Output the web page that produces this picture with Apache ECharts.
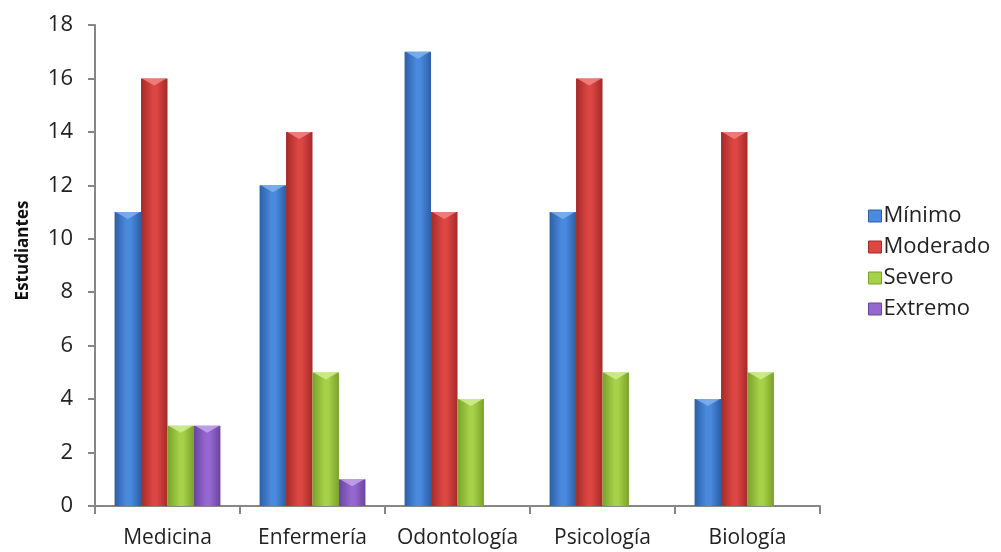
<!DOCTYPE html>
<html>
<head>
<meta charset="utf-8">
<script src="https://cdn.jsdelivr.net/npm/echarts@6/dist/echarts.min.js"></script>
<style>
  html, body { margin: 0; padding: 0; background: #fff; }
  #chart { width: 1001px; height: 552px; }
</style>
</head>
<body>
<div id="chart"></div>
<script>
// Students per depression level, by degree programme
const categories = ['Medicina', 'Enfermería', 'Odontología', 'Psicología', 'Biología'];
const seriesNames = ['Mínimo', 'Moderado', 'Severo', 'Extremo'];
const minimo   = [11, 12, 17, 11, 4];
const moderado = [16, 14, 11, 16, 14];
const severo   = [3, 5, 4, 5, 5];
const extremo  = [3, 1, 0, 0, 0];
const yTicks = [0, 2, 4, 6, 8, 10, 12, 14, 16, 18];

const values = [minimo, moderado, severo, extremo];
// [dark edge, light centre, chevron highlight]
const palette = [
  ['#2c5fa6', '#4a8ade', '#7fb0ee'],
  ['#a52a28', '#dc4643', '#f08683'],
  ['#7aa12b', '#a6d148', '#d0ee8e'],
  ['#6a44a0', '#9468d0', '#c3a6ec']
];

function barFill(c) {
  return new echarts.graphic.LinearGradient(0, 0, 1, 0, [
    { offset: 0, color: c[0] },
    { offset: 0.45, color: c[1] },
    { offset: 0.6, color: c[1] },
    { offset: 1, color: c[0] }
  ]);
}

const chart = echarts.init(document.getElementById('chart'));
const catWidth = (1001 - 95 - 181) / categories.length;
const barW = catWidth * 0.73 / 4;
const font = 'Open Sans';

const series = [];
values.forEach((vals, i) => {
  series.push({
    name: seriesNames[i],
    type: 'bar',
    data: vals,
    barGap: '0%',
    barCategoryGap: '27%',
    itemStyle: { color: barFill(palette[i]) }
  });
});
// bevelled tops of the bars
values.forEach((vals, i) => {
  series.push({
    name: seriesNames[i] + ' top',
    type: 'pictorialBar',
    data: vals.map(v => (v > 0 ? v : '-')),
    symbol: 'path://M0,0 L20,0 L10,7 Z',
    symbolSize: [barW - 2, 7],
    symbolPosition: 'end',
    symbolOffset: [(i - 1.5) * barW, 0],
    symbolClip: false,
    silent: true,
    z: 3,
    itemStyle: { color: palette[i][2], opacity: 0.85 }
  });
});

chart.setOption({
  animation: false,
  grid: { left: 95, right: 181, top: 25, bottom: 46, containLabel: false },
  legend: {
    data: seriesNames.map((n, i) => ({ name: n, itemStyle: { color: palette[i][1], borderColor: palette[i][0], borderWidth: 1 } })),
    orient: 'vertical',
    left: 863,
    top: 200,
    icon: 'rect',
    itemWidth: 13,
    itemHeight: 12,
    itemGap: 9,
    textStyle: { fontFamily: font, fontSize: 22, color: '#222', lineHeight: 22, padding: [0, 0, 0, -3] }
  },
  xAxis: {
    type: 'category',
    data: categories,
    axisLine: { lineStyle: { color: '#868686', width: 2 } },
    axisTick: { show: true, interval: 0, length: 8, lineStyle: { color: '#868686', width: 2 } },
    axisLabel: { interval: 0, hideOverlap: false, fontFamily: font, fontSize: 21, color: '#222', margin: 22 }
  },
  yAxis: {
    type: 'value',
    min: yTicks[0],
    max: yTicks[yTicks.length - 1],
    interval: yTicks[1] - yTicks[0],
    name: 'Estudiantes',
    nameLocation: 'middle',
    nameGap: 63,
    nameTextStyle: { fontFamily: font, fontSize: 17, fontWeight: 'bold', color: '#111', padding: [0, 0, 0, 30] },
    axisLine: { show: true, lineStyle: { color: '#868686', width: 2 } },
    axisTick: { show: true, length: 7, lineStyle: { color: '#868686', width: 2 } },
    axisLabel: { fontFamily: font, fontSize: 22, color: '#222', margin: 22 },
    splitLine: { show: false }
  },
  series: series
});
</script>
</body>
</html>
